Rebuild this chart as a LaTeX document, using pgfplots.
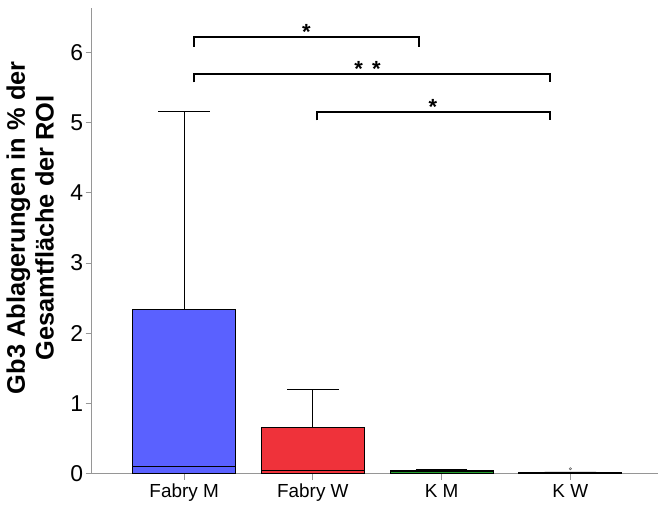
\documentclass[border=0pt]{standalone}
\usepackage{fontspec}
\setmainfont{Liberation Sans}
\usepackage{pgfplots}
\pgfplotsset{compat=1.18}
\usepgfplotslibrary{statistics}

\definecolor{boxblue}{RGB}{90,97,255}
\definecolor{boxred}{RGB}{239,50,58}
\definecolor{boxgreen}{RGB}{34,160,44}
\definecolor{axisgray}{RGB}{150,150,150}

\begin{document}
\begin{tikzpicture}
\begin{axis}[
  at={(0,0)}, anchor=south west,
  scale only axis, width=566.3bp, height=466bp,
  xmin=-0.719, xmax=3.678, ymin=0, ymax=6.63,
  axis lines*=left,
  axis line style={axisgray, line width=0.9bp},
  tick style={axisgray, line width=0.9bp},
  tick align=outside, major tick length=6bp,
  xtick={0,1,2,3},
  xticklabels={Fabry M, Fabry W, K M, K W},
  ytick={0,1,2,3,4,5,6},
  /pgf/number format/assume math mode=true,
  x tick label style={font=\fontsize{19}{22}\selectfont, yshift=-1bp},
  y tick label style={font=\fontsize{23}{26}\selectfont, xshift=1bp},
  ylabel={Gb3 Ablagerungen in \% der\\Gesamtfläche der ROI},
  ylabel style={font=\bfseries\fontsize{25.5}{29}\selectfont, align=center,
    at={(axis description cs:-0.1085,0.528)}, anchor=center, rotate=0},
  boxplot/draw direction=y,
  boxplot/box extend=0.8,
  boxplot/whisker extend=0.4,
  clip=false,
]
% Fabry M
\addplot[draw=black, line width=0.8bp, fill=boxblue,
  boxplot prepared={draw position=0, lower whisker=0, lower quartile=0,
    median=0.104, upper quartile=2.34, upper whisker=5.16}] coordinates {};
% Fabry W
\addplot[draw=black, line width=0.8bp, fill=boxred,
  boxplot prepared={draw position=1, lower whisker=0, lower quartile=0,
    median=0.047, upper quartile=0.664, upper whisker=1.20}] coordinates {};
% K M
\addplot[draw=black, line width=0.8bp, fill=boxgreen,
  boxplot prepared={draw position=2, lower whisker=0, lower quartile=0,
    median=0.03, upper quartile=0.047, upper whisker=0.062}] coordinates {};
% K W (with one outlier)
\addplot[draw=black, line width=0.8bp, fill=black, mark=o, mark size=1.2bp,
  mark options={line width=0.4bp, draw=black!70},
  boxplot prepared={draw position=3, lower whisker=0, lower quartile=0,
    median=0.008, upper quartile=0.015, upper whisker=0.025}] coordinates {(3,0.07)};

% significance brackets
\draw[line width=1.7bp] (axis cs:0.078,6.08) -- (axis cs:0.078,6.22) -- (axis cs:1.825,6.22) -- (axis cs:1.825,6.08);
\draw[line width=1.7bp] (axis cs:0.078,5.57) -- (axis cs:0.078,5.69) -- (axis cs:2.845,5.69) -- (axis cs:2.845,5.57);
\draw[line width=1.7bp] (axis cs:1.033,5.03) -- (axis cs:1.033,5.145) -- (axis cs:2.845,5.145) -- (axis cs:2.845,5.03);
\node[font=\bfseries\fontsize{22}{22}\selectfont, anchor=base, inner sep=0pt] at (axis cs:0.95,6.18) {*};
\node[font=\bfseries\fontsize{22}{22}\selectfont, anchor=base, inner sep=0pt] at (axis cs:1.356,5.66) {*};
\node[font=\bfseries\fontsize{22}{22}\selectfont, anchor=base, inner sep=0pt] at (axis cs:1.494,5.66) {*};
\node[font=\bfseries\fontsize{22}{22}\selectfont, anchor=base, inner sep=0pt] at (axis cs:1.933,5.12) {*};
\end{axis}
\path (-91.7bp,-33bp) rectangle (566.3bp,474bp);
\end{tikzpicture}
\end{document}
